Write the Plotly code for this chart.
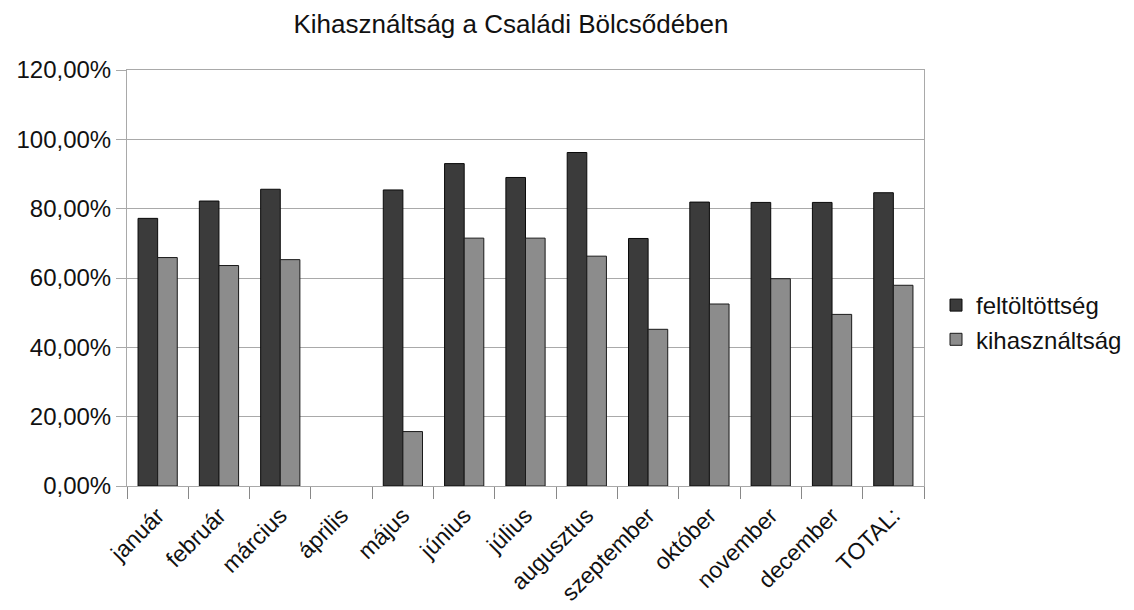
import plotly.graph_objects as go

# Monthly occupancy data for the family nursery
months = ["január", "február", "március", "április", "május", "június", "július",
          "augusztus", "szeptember", "október", "november", "december", "TOTAL:"]
feltoltottseg = [0.772, 0.822, 0.856, None, 0.854, 0.930, 0.890,
                 0.962, 0.714, 0.819, 0.818, 0.818, 0.846]
kihasznaltsag = [0.659, 0.636, 0.653, None, 0.157, 0.715, 0.715,
                 0.663, 0.452, 0.525, 0.598, 0.495, 0.579]
y_ticks = [0, 0.2, 0.4, 0.6, 0.8, 1.0, 1.2]

FONT = "Liberation Sans, Arial, sans-serif"
GRID = "#a9a9a9"

fig = go.Figure()
fig.add_trace(go.Bar(
    name="feltöltöttség", x=months, y=feltoltottseg,
    marker=dict(color="#3b3b3b", line=dict(color="#0a0a0a", width=1)),
))
fig.add_trace(go.Bar(
    name="kihasználtság", x=months, y=kihasznaltsag,
    marker=dict(color="#8c8c8c", line=dict(color="#1a1a1a", width=1)),
))

fig.update_layout(
    width=1134, height=610,
    margin=dict(l=127, r=210, t=70, b=124),
    paper_bgcolor="white", plot_bgcolor="white",
    separators=", ",
    barmode="group", bargap=0.36, bargroupgap=0,
    font=dict(family=FONT, color="#111111"),
    title=dict(
        text="Kihasználtság a Családi Bölcsődében",
        font=dict(size=26, family=FONT, color="#111111"),
        x=0.4506, xref="container", xanchor="center",
        y=1 - 24 / 610, yref="container", yanchor="middle",
    ),
    legend=dict(
        x=936 / 1134, xref="container", xanchor="left",
        y=1 - 283 / 610, yref="container", yanchor="top",
        font=dict(size=24, family=FONT, color="#111111"),
        bgcolor="rgba(0,0,0,0)", itemwidth=30,
    ),
    showlegend=True,
)

fig.update_yaxes(
    range=[0, 1.2], tickvals=y_ticks, tickformat=".2%",
    tickfont=dict(size=24, family=FONT, color="#111111"),
    showgrid=True, gridcolor=GRID, gridwidth=1,
    showline=True, linecolor=GRID, linewidth=1, mirror=True,
    ticks="outside", ticklen=10, tickcolor=GRID,
    zeroline=False, automargin=False,
)
fig.update_xaxes(
    tickangle=-45, tickfont=dict(size=23, family=FONT, color="#111111"),
    showline=True, linecolor=GRID, linewidth=1, mirror=True,
    ticks="outside", ticklen=12, tickcolor="#888888", tickson="boundaries",
    ticklabelstandoff=6,
    showgrid=False, automargin=False,
)

fig.write_html("out.html")
